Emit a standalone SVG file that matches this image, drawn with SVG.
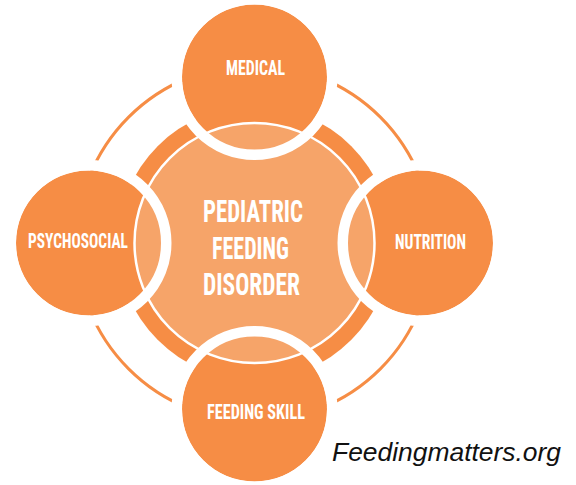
<svg xmlns="http://www.w3.org/2000/svg" width="576" height="485" viewBox="0 0 576 485">
  <style>
    .dark { fill: #F68D45; }
    .light { fill: #F6A469; stroke: #FFFFFF; stroke-width: 2.5; }
    .gap { fill: none; stroke: #FFFFFF; stroke-width: 10.5; }
    .orbit { fill: none; stroke: #F68D45; stroke-width: 3; }
    .label { fill: #FFFFFF; font-family: "Liberation Sans Narrow", "Roboto Condensed", "Liberation Sans", sans-serif; font-weight: bold; text-anchor: middle; }
    .small { font-size: 21px; }
    .big { font-size: 32px; }
    .credit { fill: #111111; font-family: "Liberation Sans", Arial, sans-serif; font-style: italic; font-size: 26.5px; }
  </style>

  <!-- thin outer orbit and thick inner ring -->
  <g id="rings">
    <circle class="orbit" cx="254.5" cy="243" r="178"/>
    <circle class="dark" cx="254.5" cy="243" r="137"/>
  </g>

  <!-- satellite fills (under the centre disc) -->
  <g id="fills">
    <circle class="dark" cx="254.5" cy="77" r="72.5"/>
    <circle class="dark" cx="420.5" cy="243" r="72.5"/>
    <circle class="dark" cx="254.5" cy="409" r="72.5"/>
    <circle class="dark" cx="88.5" cy="243" r="72.5"/>
  </g>

  <g id="center">
    <circle class="light" cx="254.5" cy="243" r="120"/>
  </g>

  <!-- white gaps round each satellite, drawn over everything -->
  <g id="connectors">
    <circle class="gap" cx="254.5" cy="77" r="77.75"/>
    <circle class="gap" cx="420.5" cy="243" r="77.75"/>
    <circle class="gap" cx="254.5" cy="409" r="77.75"/>
    <circle class="gap" cx="88.5" cy="243" r="77.75"/>
  </g>

  <g id="center-label">
    <text class="label big" x="253" y="222" textLength="100" lengthAdjust="spacingAndGlyphs">PEDIATRIC</text>
    <text class="label big" x="250.5" y="259" textLength="77" lengthAdjust="spacingAndGlyphs">FEEDING</text>
    <text class="label big" x="251.5" y="295" textLength="97" lengthAdjust="spacingAndGlyphs">DISORDER</text>
  </g>

  <g id="medical">
    <text class="label small" x="255.5" y="75" textLength="59" lengthAdjust="spacingAndGlyphs">MEDICAL</text>
  </g>
  <g id="nutrition">
    <text class="label small" x="430.5" y="249" textLength="71" lengthAdjust="spacingAndGlyphs">NUTRITION</text>
  </g>
  <g id="feeding-skill">
    <text class="label small" x="256" y="419" textLength="98" lengthAdjust="spacingAndGlyphs">FEEDING SKILL</text>
  </g>
  <g id="psychosocial">
    <text class="label small" x="78" y="248" textLength="100" lengthAdjust="spacingAndGlyphs">PSYCHOSOCIAL</text>
  </g>

  <text class="credit" x="332" y="461" textLength="229" lengthAdjust="spacingAndGlyphs">Feedingmatters.org</text>
</svg>
